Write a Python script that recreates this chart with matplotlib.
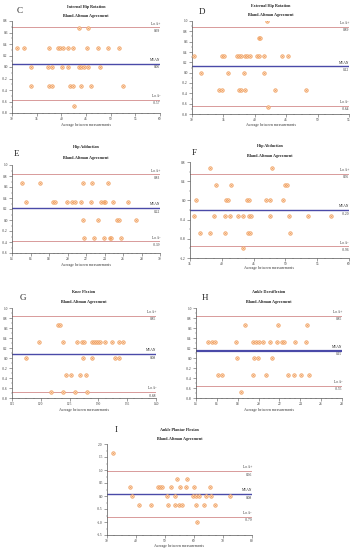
import matplotlib
matplotlib.use("Agg")
import matplotlib.pyplot as plt
from matplotlib.ticker import AutoMinorLocator, FixedLocator

W, H = 357, 550

# ---------------- data ----------------
# C: Internal Hip Rotation
c_avg = [43.5, 45.5,
         31.1, 32.4, 37.4, 39.4, 39.8, 40.4, 41.4, 42.4, 45.3, 47.4, 49.4, 51.7,
         33.9, 37.3, 38.2, 40.2, 41.3, 43.6, 43.9, 44.6, 45.5, 47.9,
         33.8, 37.5, 38.1, 41.7, 42.3, 43.9, 46.0, 52.5,
         42.5]
c_diff = [0.67, 0.67,
          0.33, 0.33, 0.33, 0.33, 0.33, 0.33, 0.33, 0.33, 0.33, 0.33, 0.33, 0.33,
          0, 0, 0, 0, 0, 0, 0, 0, 0, 0,
          -0.33, -0.33, -0.33, -0.33, -0.33, -0.33, -0.33, -0.33,
          -0.67]
c_lines = [0.69, 0.06, -0.57]

# D: External Hip Rotation
d_avg = [41.9, 40.6, 40.8,
         30.3, 34.7, 35.1, 37.1, 37.5, 37.8, 38.4, 38.7, 39.2, 40.3, 40.6, 41.4, 44.4, 45.3,
         31.4, 35.7, 38.3, 41.5,
         34.3, 34.7, 37.5, 37.8, 38.4, 43.2, 48.2,
         42.1]
d_diff = [1.0, 0.67, 0.67,
          0.33, 0.33, 0.33, 0.33, 0.33, 0.33, 0.33, 0.33, 0.33, 0.33, 0.33, 0.33, 0.33, 0.33,
          0, 0, 0, 0,
          -0.33, -0.33, -0.33, -0.33, -0.33, -0.33, -0.33,
          -0.67]
d_lines = [0.89, 0.12, -0.64]

# E: Hip Adduction
e_avg = [15.05, 17.0, 21.7, 22.7, 24.4,
         15.5, 18.4, 18.7, 19.9, 20.5, 20.8, 21.5, 22.5, 23.6, 23.9, 24.1, 24.9, 26.5,
         21.7, 23.3, 25.3, 25.6, 27.4,
         21.8, 22.9, 23.9, 24.6, 24.7, 25.8]
e_diff = [0.67, 0.67, 0.67, 0.67, 0.67,
          0.33, 0.33, 0.33, 0.33, 0.33, 0.33, 0.33, 0.33, 0.33, 0.33, 0.33, 0.33, 0.33,
          0, 0, 0, 0, 0,
          -0.33, -0.33, -0.33, -0.33, -0.33, -0.33]
e_lines = [0.83, 0.22, -0.39]

# F: Hip Abduction
f_avg = [38.2, 47.9,
         39.1, 41.4, 49.9, 50.3,
         36.0, 40.6, 40.9, 43.9, 44.2, 46.9, 47.6, 49.6,
         35.7, 38.7, 40.5, 41.3, 42.5, 43.3, 44.2, 44.6, 47.5, 50.5, 53.6, 57.2,
         36.6, 38.2, 40.5, 44.1, 44.4, 50.7,
         43.3]
f_diff = [0.67, 0.67,
          0.33, 0.33, 0.33, 0.33,
          0, 0, 0, 0, 0, 0, 0, 0,
          -0.33, -0.33, -0.33, -0.33, -0.33, -0.33, -0.33, -0.33, -0.33, -0.33, -0.33, -0.33,
          -0.67, -0.67, -0.67, -0.67, -0.67, -0.67,
          -1.0]
f_lines = [0.56, -0.20, -0.96]

# G: Knee Flexion
g_avg = [122.9, 123.3,
         119.7, 123.8, 126.3, 127.1, 127.5, 128.9, 129.2, 129.5, 129.9, 130.3, 131.2, 132.4, 133.6, 134.3,
         117.4, 127.3, 128.9, 132.8, 133.5,
         124.3, 125.2, 126.8, 127.9,
         121.8, 123.8, 125.9, 128.0]
g_diff = [0.67, 0.67,
          0.33, 0.33, 0.33, 0.33, 0.33, 0.33, 0.33, 0.33, 0.33, 0.33, 0.33, 0.33, 0.33, 0.33,
          0, 0, 0, 0, 0,
          -0.33, -0.33, -0.33, -0.33,
          -0.67, -0.67, -0.67, -0.67]
g_lines = [0.85, 0.08, -0.68]

# H: Ankle Dorsiflexion
h_avg = [18.66, 21.9, 24.6,
         15.15, 15.5, 15.8, 17.8, 19.46, 19.8, 20.0, 20.4, 21.1, 21.8, 22.2, 22.4, 23.5, 24.5,
         17.96, 19.6, 19.9, 21.3,
         16.1, 16.5, 19.5, 20.7, 22.8, 23.4, 24.1, 24.8,
         18.3]
h_diff = [0.67, 0.67, 0.67,
          0.33, 0.33, 0.33, 0.33, 0.33, 0.33, 0.33, 0.33, 0.33, 0.33, 0.33, 0.33, 0.33, 0.33,
          0, 0, 0, 0,
          -0.33, -0.33, -0.33, -0.33, -0.33, -0.33, -0.33, -0.33,
          -0.67]
h_lines = [0.85, 0.15, -0.55]

# I: Ankle Plantar Flexion
i_avg = [32.1,
         54.2, 57.7,
         37.8, 47.7, 48.3, 48.8, 51.9, 55.3, 57.4, 60.0, 65.5,
         38.7, 50.7, 53.5, 59.7, 60.8, 61.6, 64.2, 65.8, 72.4,
         41.0, 45.1, 51.2, 53.3, 54.7, 55.8, 60.6, 63.4, 67.4,
         61.2]
i_diff = [1.67,
          0.67, 0.67,
          0.33, 0.33, 0.33, 0.33, 0.33, 0.33, 0.33, 0.33, 0.33,
          0, 0, 0, 0, 0, 0, 0, 0, 0,
          -0.33, -0.33, -0.33, -0.33, -0.33, -0.33, -0.33, -0.33, -0.33,
          -1.0]
i_lines = [0.96, 0.08, -0.79]

# ---------------- drawing ----------------
fig = plt.figure(figsize=(W / 100, H / 100), dpi=100)
fig.patch.set_facecolor("white")

SERIF = ["Liberation Serif", "DejaVu Serif"]
LOA_C = "#d89a9a"
MEAN_C = "#4a4aa8"
PT_C = "#f0a060"
AX_C = "#555555"


def fx(px):
    return px / W


def fy(py):
    return 1 - py / H


def panel(box, letter, letter_xy, name, title_y, avg, diff, lines,
          xlim, xstep, ylim, ystep, ydec, xlab_y, mean_w=1.0):
    x0, y0, x1, y1 = box
    ax = fig.add_axes([fx(x0), fy(y1), fx(x1 - x0), (y1 - y0) / H])
    ax.set_xlim(*xlim)
    ax.set_ylim(*ylim)
    for s in ("top", "right"):
        ax.spines[s].set_visible(False)
    for s in ("left", "bottom"):
        ax.spines[s].set_color(AX_C)
        ax.spines[s].set_linewidth(0.5)
    n_x = int(round((xlim[1] - xlim[0]) / xstep))
    xt = [xlim[0] + k * xstep for k in range(n_x + 1)]
    n_y = int(round((ylim[1] - ylim[0]) / ystep))
    yt = [round(ylim[0] + k * ystep, 3) for k in range(n_y + 1)]
    ax.xaxis.set_major_locator(FixedLocator(xt))
    ax.yaxis.set_major_locator(FixedLocator(yt))
    ax.xaxis.set_minor_locator(AutoMinorLocator(4))
    ax.yaxis.set_minor_locator(AutoMinorLocator(2))
    ax.set_xticklabels([f"{v:g}" for v in xt])
    ax.set_yticklabels([f"{v:.{ydec}f}" for v in yt])
    ax.tick_params(axis="both", which="major", length=2, width=0.4,
                   labelsize=2.6, pad=1, colors=AX_C, labelcolor="#333333")
    ax.tick_params(axis="both", which="minor", length=1, width=0.3, colors=AX_C)
    for t in ax.get_xticklabels() + ax.get_yticklabels():
        t.set_fontfamily(SERIF)

    up, mean, lo = lines
    ax.axhline(up, color=LOA_C, lw=0.7, zorder=1)
    ax.axhline(lo, color=LOA_C, lw=0.7, zorder=1)
    ax.axhline(mean, color=MEAN_C, lw=mean_w, zorder=1)

    ax.scatter(avg, diff, s=7, marker="o", facecolor="#fbd9bd",
               edgecolor=PT_C, linewidths=0.4, zorder=3)
    ax.scatter(avg, diff, s=3, marker="x", color=PT_C, linewidths=0.4, zorder=4)

    kw = dict(fontsize=2.6, family=SERIF, color="#333333", ha="right",
              transform=ax.get_yaxis_transform())
    for val, lab in ((up, "Lo A+"), (mean, "MEAN"), (lo, "Lo A-")):
        ax.annotate(lab, (1.0, val), xycoords=ax.get_yaxis_transform(),
                    xytext=(0, 1.2), textcoords="offset points",
                    ha="right", va="bottom", fontsize=2.6, family=SERIF,
                    color="#333333")
        ax.annotate(f"{val:.2f}", (1.0, val), xycoords=ax.get_yaxis_transform(),
                    xytext=(0, -1.2), textcoords="offset points",
                    ha="right", va="top", fontsize=2.6, family=SERIF,
                    color="#333333")

    cx = (x0 + x1) / 2
    fig.text(fx(cx), fy(title_y[0]), name, ha="center", va="center",
             fontsize=3.0, fontweight="bold", family=SERIF, color="#222222")
    fig.text(fx(cx), fy(title_y[1]), "Bland-Altman Agreement", ha="center",
             va="center", fontsize=3.0, fontweight="bold", family=SERIF,
             color="#222222")
    fig.text(fx(letter_xy[0]), fy(letter_xy[1]), letter, ha="center",
             va="center", fontsize=6.5, family=SERIF, color="#222222")
    fig.text(fx(cx), fy(xlab_y), "Average between measurements", ha="center",
             va="center", fontsize=2.8, family=SERIF, color="#333333")
    return ax


panel((12, 21, 160, 113), "C", (20, 11), "Internal Hip Rotation", (7, 16),
      c_avg, c_diff, c_lines, (30, 60), 5, (-0.8, 0.8), 0.2, 1, 125)
panel((192, 21, 349, 114), "D", (202, 12), "External Hip Rotation", (6, 15),
      d_avg, d_diff, d_lines, (30, 55), 5, (-0.8, 1.0), 0.2, 1, 125)
panel((12, 165, 160, 253), "E", (17, 154), "Hip Adduction", (147, 158),
      e_avg, e_diff, e_lines, (14, 30), 2, (-0.6, 1.0), 0.2, 1, 265)
panel((190, 162, 349, 258), "F", (194, 153), "Hip Abduction", (146, 156),
      f_avg, f_diff, f_lines, (35, 60), 5, (-1.2, 0.8), 0.4, 1, 268)
panel((12, 308, 156, 398), "G", (23, 298), "Knee Flexion", (292, 302),
      g_avg, g_diff, g_lines, (115, 140), 5, (-0.8, 1.0), 0.2, 1, 410)
panel((196, 308, 342, 398), "H", (205, 298), "Ankle Dorsiflexion", (292, 302),
      h_avg, h_diff, h_lines, (14, 28), 2, (-0.8, 1.0), 0.2, 1, 410, mean_w=1.6)
panel((107, 444, 252, 535), "I", (116, 430), "Ankle Plantar Flexion", (430, 439),
      i_avg, i_diff, i_lines, (30, 80), 10, (-1.5, 2.0), 0.5, 1, 546)

fig.savefig("out.png", dpi=100, facecolor="white")
